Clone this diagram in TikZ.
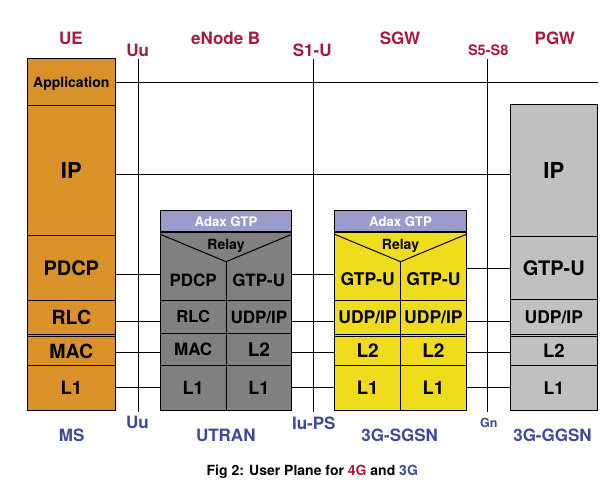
\documentclass[tikz,border=0pt]{standalone}
\usepackage{fontspec}
\setmainfont{TeX Gyre Heros}
\definecolor{ueorange}{HTML}{D9922A}
\definecolor{utgray}{HTML}{808080}
\definecolor{sgyellow}{HTML}{EFDC1C}
\definecolor{pgwgray}{HTML}{C0C0C0}
\definecolor{hdrlav}{HTML}{9B9BCB}
\definecolor{lbred}{HTML}{A6193C}
\definecolor{lbblue}{HTML}{3D4A9A}
\newcommand\setfs[1]{\fontsize{#1}{#1}\selectfont}
\begin{document}
\begin{tikzpicture}[x=1pt,y=-1pt,line width=1pt,
  cell/.style={draw, inner sep=0pt, outer sep=0pt, anchor=north west, text depth=0pt},
  bare/.style={inner sep=0pt, outer sep=0pt, anchor=north west, text depth=0pt},
  txt/.style={inner sep=0pt, text depth=0pt},
  hdr/.style={cell, fill=hdrlav, text=white, font=\bfseries\setfs{13.2}},
  top4g/.style={txt, text=lbred, font=\bfseries\setfs{17}},
  top4gs/.style={txt, text=lbred, font=\bfseries\setfs{14.5}},
  bot3g/.style={txt, text=lbblue, font=\bfseries\setfs{17}},
  bot3gs/.style={txt, text=lbblue, font=\bfseries\setfs{12.5}},
  link/.style={draw=black, line width=1pt},
  iface/.style={draw=black, line width=1pt}]

\useasboundingbox[fill=white] (0,0) rectangle (607,490);

% ---------- row heights of the peer links ----------
\coordinate (yApp) at (0,82.3);
\coordinate (yIP)  at (0,174.3);
\coordinate (yA)   at (0,274.3);
\coordinate (yE)   at (0,268.3);
\coordinate (yB)   at (0,321.3);
\coordinate (yC)   at (0,352.3);
\coordinate (yD)   at (0,387.3);
\coordinate (appEnd) at (597.7,82.3);

% ---------- interface lines ----------
\coordinate (uuT) at (138.3,59);   \coordinate (uuB) at (138.3,411.5);
\coordinate (s1T) at (313.3,59);   \coordinate (s1B) at (313.3,411.5);
\coordinate (s5T) at (487.7,59);   \coordinate (s5B) at (487.7,411.5);
\draw[iface] (uuT) -- (uuB);
\draw[iface] (s1T) -- (s1B);
\draw[iface] (s5T) -- (s5B);

% ---------- UE / MS stack ----------
\node[cell, fill=ueorange, minimum width=88, minimum height=352] (ue) at (27.3,58.3) {};
\node[cell, minimum width=88, minimum height=47,  font=\bfseries\setfs{14}] (ueApp)  at (27.3,58.3)  {Application};
\node[cell, minimum width=88, minimum height=130, font=\bfseries\setfs{22}] (ueIP)   at (27.3,105.3) {IP};
\node[cell, minimum width=88, minimum height=65,  font=\bfseries\setfs{20}] (uePDCP) at (27.3,235.3) {PDCP};
\node[cell, minimum width=88, minimum height=34,  font=\bfseries\setfs{19.5}] (ueRLC)  at (27.3,300.3) {RLC};
\node[cell, minimum width=88, minimum height=29,  font=\bfseries\setfs{19.5}] (ueMAC)  at (27.3,336.3) {MAC};
\node[cell, minimum width=88, minimum height=45,  font=\bfseries\setfs{18.5}] (ueL1)   at (27.3,365.3) {L1};

% ---------- eNode B / UTRAN stack ----------
\node[hdr, minimum width=131.4, minimum height=22] (utHdr) at (160.3,210.3) {Adax GTP};
\node[cell, fill=utgray, minimum width=131.4, minimum height=178] (utBody) at (160.3,232.3) {};
\draw[line width=2pt] (utHdr.south west) -- (utHdr.south east);
\coordinate (utApex) at (226,261.7);
\draw ([yshift=-2pt]utBody.north west) -- (utApex) -- ([yshift=-2pt]utBody.north east);
\draw (utApex) -- (utApex |- utBody.south);
\node[txt, font=\bfseries\setfs{14}] (utRelay) at (226,244) {Relay};
\node[txt, font=\bfseries\setfs{17}] (utPDCP) at (193.2,280) {PDCP};
\node[txt, font=\bfseries\setfs{17}] (utGTP)  at (258.8,280) {GTP-U};
\node[cell, minimum width=65.7, minimum height=33, font=\bfseries\setfs{16.5}] (utRLC) at (160.3,300.3) {RLC};
\node[cell, minimum width=65.7, minimum height=33, font=\bfseries\setfs{17}]   (utUDP) at (226,300.3)   {UDP/IP};
\node[cell, minimum width=65.7, minimum height=32, font=\bfseries\setfs{17}]   (utMAC) at (160.3,333.3) {MAC};
\node[cell, minimum width=65.7, minimum height=32, font=\bfseries\setfs{19}]   (utL2)  at (226,333.3)   {L2};
\node[cell, minimum width=65.7, minimum height=45, font=\bfseries\setfs{18}]   (utL1a) at (160.3,365.3) {L1};
\node[cell, minimum width=65.7, minimum height=45, font=\bfseries\setfs{18}]   (utL1b) at (226,365.3)   {L1};

% ---------- SGW / 3G-SGSN stack ----------
\node[hdr, minimum width=131.6, minimum height=22] (sgHdr) at (334.7,210.3) {Adax GTP};
\node[cell, fill=sgyellow, minimum width=131.6, minimum height=178] (sgBody) at (334.7,232.3) {};
\draw[line width=2pt] (sgHdr.south west) -- (sgHdr.south east);
\coordinate (sgApex) at (400.5,261.7);
\draw ([yshift=-2pt]sgBody.north west) -- (sgApex) -- ([yshift=-2pt]sgBody.north east);
\draw (sgApex) -- (sgApex |- sgBody.south);
\node[txt, font=\bfseries\setfs{14}] (sgRelay) at (400.5,244) {Relay};
\node[txt, font=\bfseries\setfs{17.5}] (sgGTPa) at (367.6,279.3) {GTP-U};
\node[txt, font=\bfseries\setfs{17.5}] (sgGTPb) at (433.4,279.3) {GTP-U};
\node[cell, minimum width=65.8, minimum height=34, font=\bfseries\setfs{17.5}] (sgUDPa) at (334.7,300.3) {UDP/IP};
\node[cell, minimum width=65.8, minimum height=34, font=\bfseries\setfs{17.5}] (sgUDPb) at (400.5,300.3) {UDP/IP};
\node[cell, minimum width=65.8, minimum height=29, font=\bfseries\setfs{19}]   (sgL2a)  at (334.7,336.3) {L2};
\node[cell, minimum width=65.8, minimum height=29, font=\bfseries\setfs{19}]   (sgL2b)  at (400.5,336.3) {L2};
\node[cell, minimum width=65.8, minimum height=45, font=\bfseries\setfs{18.5}] (sgL1a)  at (334.7,365.3) {L1};
\node[cell, minimum width=65.8, minimum height=45, font=\bfseries\setfs{18.5}] (sgL1b)  at (400.5,365.3) {L1};

% ---------- PGW / 3G-GGSN stack ----------
\node[cell, fill=pgwgray, minimum width=87, minimum height=306] (pgw) at (510.3,104.3) {};
\node[cell, minimum width=87, minimum height=131.7, font=\bfseries\setfs{22}]   (pgIP)  at (510.3,104.3) {IP};
\node[cell, minimum width=87, minimum height=63.3,  font=\bfseries\setfs{20}]   (pgGTP) at (510.3,236)   {GTP-U};
\node[cell, minimum width=87, minimum height=35.4,  font=\bfseries\setfs{17.5}] (pgUDP) at (510.3,299.3) {UDP/IP};
\node[cell, minimum width=87, minimum height=28.6,  font=\bfseries\setfs{18.5}] (pgL2)  at (510.3,336.7) {L2};
\node[cell, minimum width=87, minimum height=45,    font=\bfseries\setfs{17.5}] (pgL1)  at (510.3,365.3) {L1};

% ---------- peer links ----------
\draw[link] (ueApp.east |- yApp) -- (appEnd);
\draw[link] (ueIP.east |- yIP) -- (pgIP.west |- yIP);
\draw[link] (uePDCP.east |- yA) -- (utBody.west |- yA);
\draw[link] (ueRLC.east |- yB) -- (utRLC.west |- yB);
\draw[link] (ueMAC.east |- yC) -- (utMAC.west |- yC);
\draw[link] (ueL1.east |- yD) -- (utL1a.west |- yD);
\draw[link] (utBody.east |- yA) -- (sgBody.west |- yA);
\draw[link] (utUDP.east |- yB) -- (sgUDPa.west |- yB);
\draw[link] (utL2.east |- yC) -- (sgL2a.west |- yC);
\draw[link] (utL1b.east |- yD) -- (sgL1a.west |- yD);
\draw[link] (sgBody.east |- yE) -- (pgGTP.west |- yE);
\draw[link] (sgUDPb.east |- yB) -- (pgUDP.west |- yB);
\draw[link] (sgL2b.east |- yC) -- (pgL2.west |- yC);
\draw[link] (sgL1b.east |- yD) -- (pgL1.west |- yD);

% ---------- 4G names (top) ----------
\node[top4g]  (lUE)   at (71,38)    {UE};
\node[top4g]  (lENB)  at (225.7,38) {eNode B};
\node[top4g]  (lSGW)  at (400,38)   {SGW};
\node[top4g]  (lPGW)  at (554.8,38) {PGW};
\node[top4g]  (lUu)   at (137.7,50) {Uu};
\node[top4g]  (lS1)   at (312.2,50) {S1-U};
\node[top4gs] (lS5)   at (488.2,50) {S5-S8};

% ---------- 3G names (bottom) ----------
\node[bot3g]  (lMS)   at (71.7,435)  {MS};
\node[bot3g]  (lUTR)  at (225.8,435) {UTRAN};
\node[bot3g]  (lSGSN) at (399.7,435) {3G-SGSN};
\node[bot3g]  (lGGSN) at (552.5,435) {3G-GGSN};
\node[bot3g]  (lUu2)  at (137.5,422.7) {Uu};
\node[bot3g]  (lIu)   at (313.8,422.7) {Iu-PS};
\node[bot3gs] (lGn)   at (488.7,422.7) {Gn};

% ---------- caption ----------
\node[txt, font=\bfseries\setfs{14}] (cap) at (312.3,470)
  {Fig 2: User Plane for \textcolor{lbred}{4G} and \textcolor{lbblue}{3G}};
\end{tikzpicture}
\end{document}
